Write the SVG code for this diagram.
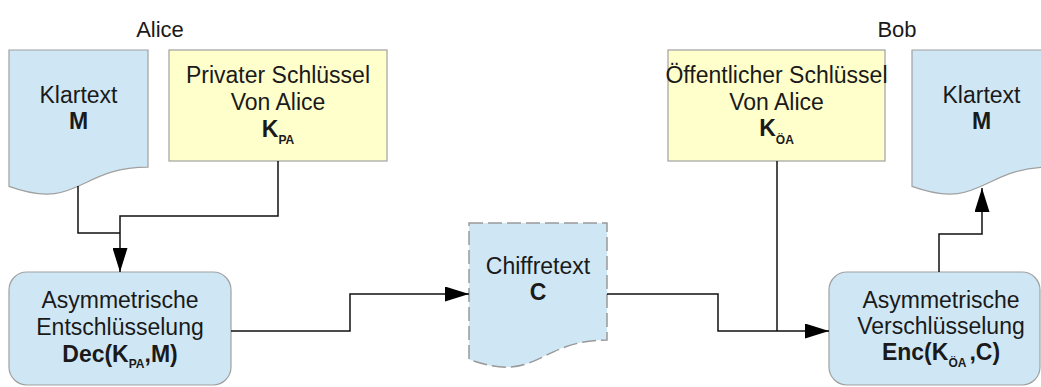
<svg xmlns="http://www.w3.org/2000/svg" width="1041" height="387" viewBox="0 0 1041 387">
<style>
text{font-family:"Liberation Sans",Arial,sans-serif;font-size:23px;fill:#1a1a1a;text-anchor:middle}
.b{font-weight:bold}
.sub{font-size:12px;font-weight:bold}
.lbl{font-size:22px}
.doc{fill:#cfe7f5;stroke:#a0a0a0;stroke-width:1.2}
.dash{fill:#cfe7f5;stroke:#999;stroke-width:1.5;stroke-dasharray:14 5}
.key{fill:#ffffcc;stroke:#a0a0a0;stroke-width:1.2}
.proc{fill:#cfe7f5;stroke:#a0a0a0;stroke-width:1.2}
.c{fill:none;stroke:#111;stroke-width:1.5}
</style>
<defs>
<marker id="ah" viewBox="0 0 24 15" markerWidth="24" markerHeight="15" refX="24" refY="7.5" orient="auto" markerUnits="userSpaceOnUse">
<path d="M0,0 L24,7.5 L0,15 z" fill="#000"/>
</marker>
</defs>

<text class="lbl" x="160" y="37">Alice</text>
<text class="lbl" x="897" y="37">Bob</text>

<g id="klartext-alice">
<path class="doc" d="M9,50 H148 V167.1 C78.5,167.1 78.5,211.6 9,186.4 Z"/>
<text x="78.5" y="103">Klartext</text>
<text class="b" x="78.5" y="129">M</text>
</g>

<g id="privat-key">
<rect class="key" x="169" y="50" width="218" height="111"/>
<text x="278" y="83">Privater Schlüssel</text>
<text x="278" y="110">Von Alice</text>
<text class="b" x="278" y="137">K<tspan class="sub" dy="7">PA</tspan></text>
</g>

<g id="dec">
<rect class="proc" x="9" y="272" width="222" height="113" rx="18"/>
<text x="120" y="308">Asymmetrische</text>
<text x="120" y="335">Entschlüsselung</text>
<text class="b" x="120" y="362">Dec(K<tspan class="sub" dy="6">PA</tspan><tspan dy="-6">,M)</tspan></text>
</g>

<g id="chiffretext">
<path class="dash" d="M469,223 H607 V340.1 C538,340.1 538,384.6 469,359.4 Z"/>
<text x="538" y="274">Chiffretext</text>
<text class="b" x="538" y="300">C</text>
</g>

<g id="public-key">
<rect class="key" x="668" y="50" width="217" height="111"/>
<text x="776.5" y="83">Öffentlicher Schlüssel</text>
<text x="776.5" y="110">Von Alice</text>
<text class="b" x="776.5" y="136">K<tspan class="sub" dy="8">ÖA</tspan></text>
</g>

<g id="klartext-bob">
<path class="doc" d="M912,50 H1051 V167.1 C981.5,167.1 981.5,211.6 912,186.4 Z"/>
<text x="981.5" y="103">Klartext</text>
<text class="b" x="981.5" y="129">M</text>
</g>

<g id="enc">
<rect class="proc" x="829" y="272" width="211" height="113" rx="18"/>
<text x="941" y="308">Asymmetrische</text>
<text x="941" y="334">Verschlüsselung</text>
<text class="b" x="941" y="360">Enc(K<tspan class="sub" dy="7">ÖA</tspan><tspan dx="3" dy="-7">,C)</tspan></text>
</g>

<g id="connectors">
<path class="c" d="M78,186 V233 H120"/>
<path class="c" d="M278,161 V216 H120 V272" marker-end="url(#ah)"/>
<path class="c" d="M231,331 H350 V294 H469" marker-end="url(#ah)"/>
<path class="c" d="M607,294 H718 V331 H829" marker-end="url(#ah)"/>
<path class="c" d="M777,161 V331"/>
<path class="c" d="M939,272 V234 H982 V188" marker-end="url(#ah)"/>
</g>
</svg>
